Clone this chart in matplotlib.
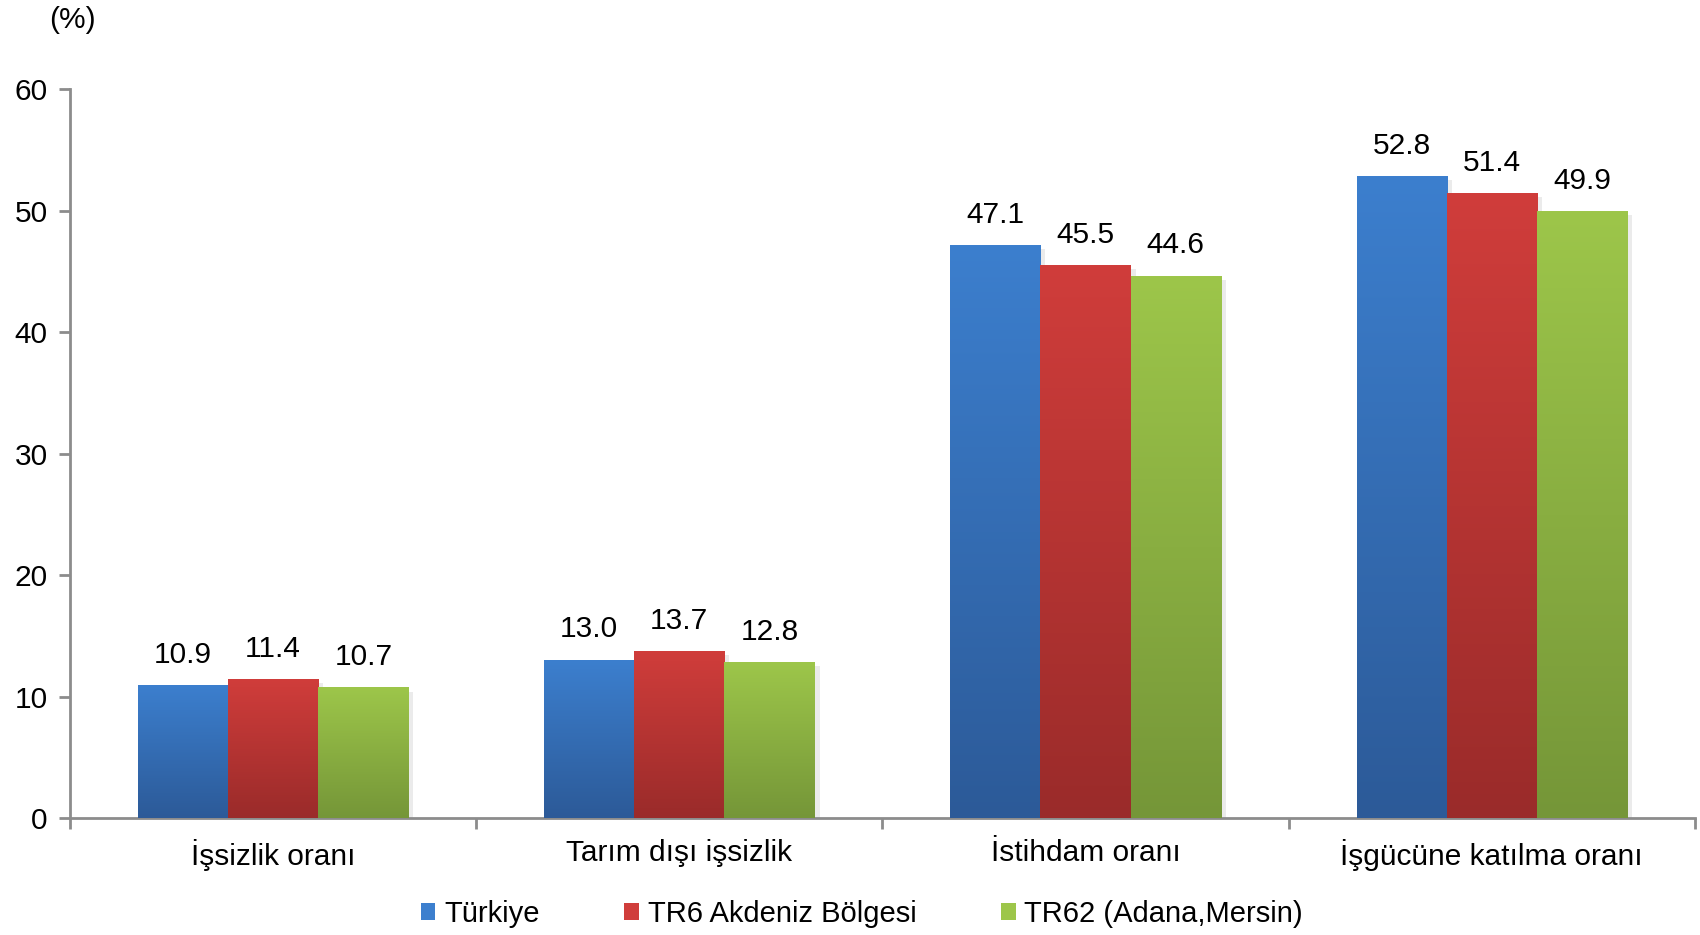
import matplotlib.pyplot as plt
import numpy as np
from matplotlib.colors import LinearSegmentedColormap
from matplotlib.patches import Patch

plt.rcParams['font.family'] = ['Liberation Sans', 'DejaVu Sans']

categories = ['İşsizlik oranı', 'Tarım dışı işsizlik', 'İstihdam oranı', 'İşgücüne katılma oranı']
series = ['Türkiye', 'TR6 Akdeniz Bölgesi', 'TR62 (Adana,Mersin)']
turkiye = [10.9, 13.0, 47.1, 52.8]
tr6 = [11.4, 13.7, 45.5, 51.4]
tr62 = [10.7, 12.8, 44.6, 49.9]

# top colour, bottom colour for the vertical gradient
colours = [('#3c7fce', '#2c5a98'), ('#d03d3b', '#9a2b2a'), ('#9dc64a', '#759638')]

fig = plt.figure(figsize=(17, 9.35), dpi=100)
ax = fig.add_axes([0.0412, 0.1251, 0.9558, 0.7797])

x = np.arange(len(categories))
width = 0.222
grad = np.linspace(0, 1, 256).reshape(-1, 1)

for i, (name, vals) in enumerate(zip(series, [turkiye, tr6, tr62])):
    pos = x + (i - 1) * width
    bars = ax.bar(pos, vals, width, color='none', edgecolor='none', label=name, zorder=3)
    cmap = LinearSegmentedColormap.from_list(name, [colours[i][1], colours[i][0]])
    for b, v in zip(bars, vals):
        x0 = b.get_x()
        # soft shadow
        ax.add_patch(plt.Rectangle((x0 + 0.012, 0), b.get_width(), v - 0.3,
                                   color='#000000', alpha=0.08, lw=0, zorder=2))
        ax.imshow(grad, extent=[x0, x0 + b.get_width(), 0, v], origin='lower',
                  cmap=cmap, aspect='auto', zorder=3)
        ax.annotate(f'{v:.1f}', (b.get_x() + b.get_width() / 2, v),
                    xytext=(0, 12), textcoords='offset points',
                    ha='center', va='bottom', fontsize=21.5)

ax.set_xlim(-0.5, 3.5)
ax.set_ylim(0, 60)
ax.set_yticks(range(0, 61, 10))
ax.set_xticks(np.arange(-0.5, 3.6, 1))
ax.set_xticklabels([])
ax.set_xticks(x, minor=True)
ax.set_xticklabels(categories, minor=True, fontsize=21.5)
ax.tick_params(axis='x', which='minor', length=0, pad=15)
ax.tick_params(axis='x', which='major', length=8, color='#8c8c8c', width=2)
ax.tick_params(axis='y', length=8, color='#8c8c8c', width=2, labelsize=21.5, pad=8)

for s in ['top', 'right']:
    ax.spines[s].set_visible(False)
for s in ['left', 'bottom']:
    ax.spines[s].set_color('#8c8c8c')
    ax.spines[s].set_linewidth(2)

fig.text(0.029, 0.979, '(%)', fontsize=21.5, ha='left', va='center')

handles = [Patch(facecolor=c[0], edgecolor='none') for c in colours]
fig.legend(handles, series, loc='center', bbox_to_anchor=(0.507, 0.0225), ncol=3,
           frameon=False, fontsize=21, handlelength=0.5, handleheight=0.5,
           handletextpad=0.3, columnspacing=2.9)

fig.savefig('out.png', dpi=100)
